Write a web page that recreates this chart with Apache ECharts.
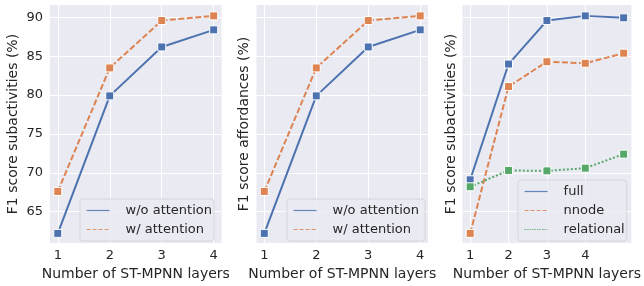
<!DOCTYPE html>
<html>
<head>
<meta charset="utf-8">
<script src="https://cdn.jsdelivr.net/npm/echarts@6/dist/echarts.min.js"></script>
<style>
  html, body { margin: 0; padding: 0; background: #fff; }
  #main { width: 644px; height: 286px; }
</style>
</head>
<body>
<div id="main"></div>
<script>
// data
var layers4 = [1, 2, 3, 4];
var layers5 = [1, 2, 3, 4, 5];
var subNoAttention = [62.2, 79.9, 86.2, 88.4];
var subAttention = [67.6, 83.5, 89.6, 90.2];
var affNoAttention = [62.2, 79.9, 86.2, 88.4];
var affAttention = [67.6, 83.5, 89.6, 90.2];
var fullModel = [69.1, 84.0, 89.6, 90.2, 89.95];
var nnodeModel = [62.2, 81.1, 84.3, 84.1, 85.4];
var relationalModel = [68.2, 70.3, 70.25, 70.6, 72.4];
var yTicks = [65, 70, 75, 80, 85, 90];
var xTicks = [1, 2, 3, 4];

var FONT = 'DejaVu Sans';
var TXT = '#262626';
var BLUE = '#4c72b0', ORANGE = '#dd8452', GREEN = '#55a868';
var DASH = [6, 2.5], DOT = [2, 2];

function pairs(xs, ys) {
  return xs.map(function (x, i) { return [x, ys[i]]; });
}

var grids = [
  { left: 50, top: 5, width: 171.5, height: 243 },
  { left: 256.5, top: 5, width: 171.5, height: 243 },
  { left: 462.5, top: 5, width: 171.5, height: 243 }
].map(function (g) {
  return Object.assign({ show: true, backgroundColor: '#eaeaf2', borderWidth: 0 }, g);
});

function xAxis(idx, max) {
  return {
    type: 'value', gridIndex: idx, min: 0.85, max: max,
    name: 'Number of ST-MPNN layers', nameLocation: 'middle', nameGap: 21,
    nameTextStyle: { fontFamily: FONT, fontSize: 14, color: TXT },
    axisLine: { show: false },
    axisTick: { show: false, customValues: xTicks },
    axisLabel: { customValues: xTicks, margin: 6, fontFamily: FONT, fontSize: 13, color: TXT },
    splitLine: { show: true, lineStyle: { color: '#fff', width: 1 } }
  };
}

function yAxis(idx, name, showLabels, gap) {
  return {
    type: 'value', gridIndex: idx, min: 60.95, max: 91.6,
    name: name, nameLocation: 'middle', nameGap: gap,
    nameTextStyle: { fontFamily: FONT, fontSize: 14, color: TXT },
    axisLine: { show: false },
    axisTick: { show: false, customValues: yTicks },
    axisLabel: { show: showLabels, customValues: yTicks, margin: 7, fontFamily: FONT, fontSize: 13, color: TXT },
    splitLine: { show: true, lineStyle: { color: '#fff', width: 1 } }
  };
}

function line(name, idx, xs, ys, color, type) {
  return {
    name: name, type: 'line', xAxisIndex: idx, yAxisIndex: idx,
    data: pairs(xs, ys),
    symbol: 'rect', symbolSize: 8,
    itemStyle: { color: color, borderColor: '#fff', borderWidth: 1 },
    lineStyle: { color: color, width: 2, type: type },
    emphasis: { disabled: true },
    animation: false
  };
}

function legend(items, left, top) {
  return {
    orient: 'vertical', left: left, top: top,
    data: items.map(function (it) {
      return {
        name: it[0],
        itemStyle: { color: it[1], opacity: 0, borderWidth: 0 },
        lineStyle: { color: it[1], width: 1.2, type: it[2], opacity: 0.85 }
      };
    }),
    padding: [5, 2, 5, 6],
    itemWidth: 23, itemHeight: 13, itemGap: 6,
    backgroundColor: 'rgba(234,234,242,0.8)',
    borderColor: '#d5d5dc', borderWidth: 1, borderRadius: 3,
    textStyle: { fontFamily: FONT, fontSize: 13, color: TXT, padding: [0, 0, 0, 11] },
    selectedMode: false
  };
}

var chart = echarts.init(document.getElementById('main'), null, { renderer: 'canvas' });
chart.setOption({
  animation: false,
  backgroundColor: '#fff',
  grid: grids,
  xAxis: [xAxis(0, 4.15), xAxis(1, 4.15), Object.assign(xAxis(2, 5.2), { min: 0.8 })],
  yAxis: [
    yAxis(0, 'F1 score subactivities (%)', true, 30),
    yAxis(1, 'F1 score affordances (%)', false, 5),
    yAxis(2, 'F1 score subactivities (%)', false, 4)
  ],
  legend: [
    legend([['w/o attention', BLUE, 'solid'], ['w/ attention', ORANGE, [4, 2]]], 80, 199),
    legend([['w/o attention ', BLUE, 'solid'], ['w/ attention ', ORANGE, [4, 2]]], 287, 199),
    legend([['full', BLUE, 'solid'], ['nnode', ORANGE, [4, 2]], ['relational', GREEN, [1.5, 1]]], 518, 180)
  ],
  series: [
    line('w/o attention', 0, layers4, subNoAttention, BLUE, 'solid'),
    line('w/ attention', 0, layers4, subAttention, ORANGE, DASH),
    line('w/o attention ', 1, layers4, affNoAttention, BLUE, 'solid'),
    line('w/ attention ', 1, layers4, affAttention, ORANGE, DASH),
    line('full', 2, layers5, fullModel, BLUE, 'solid'),
    line('nnode', 2, layers5, nnodeModel, ORANGE, DASH),
    line('relational', 2, layers5, relationalModel, GREEN, DOT)
  ]
});
</script>
</body>
</html>
